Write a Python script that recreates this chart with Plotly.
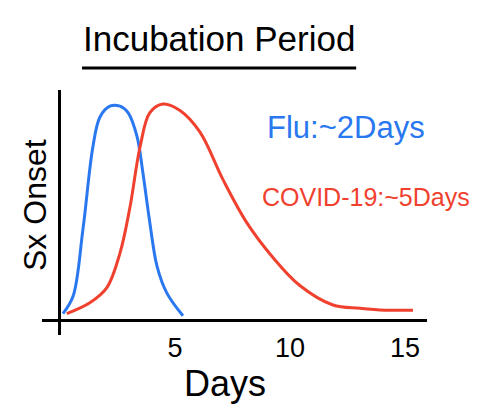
import plotly.graph_objects as go

# Data
flu_days = [0.13, 0.57, 1.0, 1.43, 1.74, 2.17, 2.61, 2.96, 3.35, 3.61, 3.91, 4.22, 4.65, 5.35]
flu_onset = [0.03, 0.11, 0.42, 0.80, 0.94, 0.99, 0.99, 0.96, 0.85, 0.68, 0.45, 0.25, 0.125, 0.02]

covid_days = [0.30, 1.30, 2.04, 2.61, 3.04, 3.48, 3.91, 4.48, 5.22, 6.09, 7.09, 8.13, 9.26, 10.43, 11.87, 13.04, 14.13, 15.35]
covid_onset = [0.03, 0.08, 0.15, 0.31, 0.52, 0.80, 0.96, 1.0, 0.97, 0.87, 0.65, 0.45, 0.29, 0.16, 0.07, 0.055, 0.046, 0.046]

tick_vals = [5, 10, 15]
tick_text = ["5", "10", "15"]

BLUE = "#2a78f0"
RED = "#f0412f"
FONT = "Liberation Sans, Arial, sans-serif"

fig = go.Figure()
fig.add_trace(go.Scatter(x=flu_days, y=flu_onset, mode="lines",
                         line=dict(color=BLUE, width=3, shape="spline", smoothing=1.0),
                         hoverinfo="skip"))
fig.add_trace(go.Scatter(x=covid_days, y=covid_onset, mode="lines",
                         line=dict(color=RED, width=3, shape="spline", smoothing=1.0),
                         hoverinfo="skip"))

# page body has an 8px margin, so the figure is sized/offset to compensate
fig.update_layout(
    width=477, height=401,
    margin=dict(l=34, r=58, t=82, b=74),
    paper_bgcolor="white", plot_bgcolor="white",
    showlegend=False,
    font=dict(family=FONT, color="black"),
)
fig.update_xaxes(range=[-0.78, 15.96], showgrid=False, showline=False,
                 zeroline=True, zerolinecolor="black", zerolinewidth=3,
                 tickvals=tick_vals, ticktext=tick_text, ticks="",
                 ticklabelstandoff=-6,
                 tickfont=dict(family=FONT, size=27, color="black"))
fig.update_yaxes(range=[-0.069, 1.065], showgrid=False, showline=False,
                 zeroline=True, zerolinecolor="black", zerolinewidth=3,
                 showticklabels=False, ticks="")

ann = [
    dict(text="Incubation Period", x=0.46, y=1.212, size=35, color="black", angle=0, xanchor="center"),
    dict(text="Flu:~2Days", x=0.579, y=0.845, size=31, color=BLUE, angle=0, xanchor="left"),
    dict(text="COVID-19:~5Days", x=0.566, y=0.563, size=25, color=RED, angle=0, xanchor="left"),
    dict(text="Sx Onset", x=-0.018, y=0.531, size=32, color="black", angle=-90, xanchor="center"),
    dict(text="Days", x=0.475, y=-0.196, size=36, color="black", angle=0, xanchor="center"),
]
for a in ann:
    fig.add_annotation(text=a["text"], x=a["x"], y=a["y"], xref="paper", yref="paper",
                       xanchor=a["xanchor"], yanchor="middle", textangle=a["angle"],
                       showarrow=False,
                       font=dict(family=FONT, size=a["size"], color=a["color"]))

fig.add_shape(type="line", xref="paper", yref="paper", x0=0.104, x1=0.816, y0=1.09, y1=1.09,
              line=dict(color="black", width=3))

fig.write_html("out.html")
